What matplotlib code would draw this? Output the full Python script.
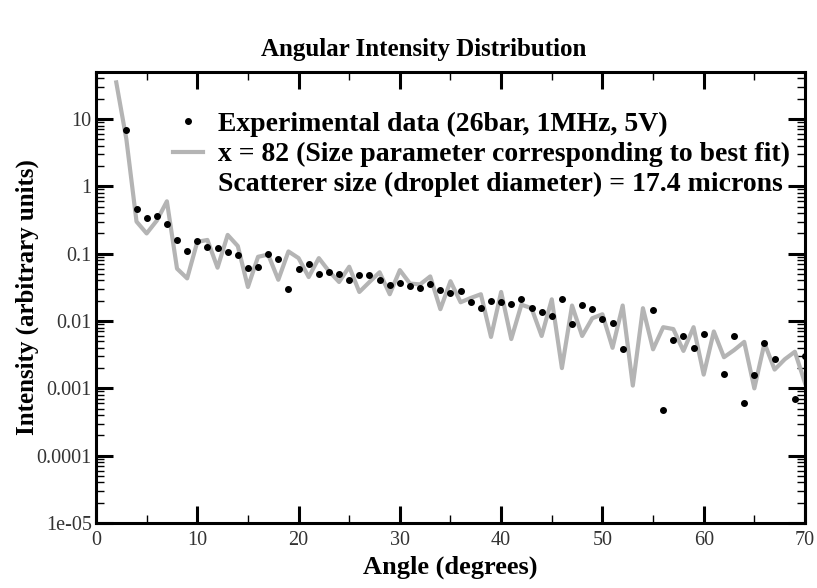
import matplotlib
matplotlib.use("Agg")
import matplotlib.pyplot as plt
from matplotlib.lines import Line2D
from matplotlib.ticker import FixedLocator, MultipleLocator, LogLocator, NullFormatter

# experimental points (angle in degrees, intensity)
exp_angle = [3, 4, 5, 6, 7, 8, 9, 10, 11, 12, 13, 14, 15, 16, 17, 18, 19, 20,
             21, 22, 23, 24, 25, 26, 27, 28, 29, 30, 31, 32, 33, 34, 35, 36,
             37, 38, 39, 40, 41, 42, 43, 44, 45, 46, 47, 48, 49, 50, 51, 52,
             55, 56, 57, 58, 59, 60, 62, 63, 64, 65, 66, 67, 69, 70]
exp_int = [6.8, 0.46, 0.34, 0.36, 0.28, 0.16, 0.108, 0.155, 0.125, 0.12,
           0.105, 0.097, 0.062, 0.064, 0.10, 0.084, 0.030, 0.060, 0.071,
           0.050, 0.053, 0.050, 0.040, 0.048, 0.049, 0.041, 0.034, 0.037,
           0.0335, 0.031, 0.035, 0.029, 0.026, 0.028, 0.019, 0.0155, 0.020,
           0.019, 0.018, 0.021, 0.0155, 0.0137, 0.012, 0.021, 0.0091, 0.0174,
           0.015, 0.0107, 0.0093, 0.0039, 0.0147, 0.00048, 0.0052, 0.006,
           0.0040, 0.0065, 0.00166, 0.006, 0.0006, 0.0016, 0.0047, 0.0027,
           0.0007, 0.003]

# Mie fit, size parameter x = 82
fit_angle = list(range(2, 71))
fit_int = [35, 5.0, 0.30, 0.20, 0.31, 0.60, 0.060, 0.043, 0.15, 0.16,
           0.062, 0.19, 0.13, 0.032, 0.090, 0.097, 0.041, 0.108, 0.086,
           0.045, 0.086, 0.055, 0.038, 0.064, 0.027, 0.038, 0.053, 0.025,
           0.057, 0.036, 0.035, 0.046, 0.015, 0.039, 0.019, 0.022, 0.025,
           0.0058, 0.027, 0.0054, 0.0175, 0.0155, 0.006, 0.021, 0.002,
           0.017, 0.006, 0.011, 0.0126, 0.004, 0.017, 0.0011, 0.0155,
           0.0038, 0.0081, 0.0076, 0.0036, 0.0081, 0.0016, 0.007, 0.0029,
           0.0037, 0.0049, 0.001, 0.0047, 0.0019, 0.0027, 0.0035, 0.0012]

ytick_vals = [1e-5, 1e-4, 1e-3, 1e-2, 1e-1, 1, 10]
ytick_text = ["1e-05", "0.0001", "0.001", "0.01", "0.1", "1", "10"]

plt.rcParams['font.family'] = ['Liberation Serif', 'DejaVu Serif']

fig = plt.figure(figsize=(8.17, 5.88), dpi=100)
ax = fig.add_axes([0.1175, 0.1105, 0.8678, 0.7671])

ax.plot(fit_angle, fit_int, color='#b4b4b4', lw=3.0, zorder=2)
ax.plot(exp_angle, exp_int, 'o', color='black', ms=4, zorder=3)

ax.set_yscale('log')
ax.set_xlim(0, 70)
ax.set_ylim(1e-5, 50)

ax.xaxis.set_major_locator(MultipleLocator(10))
ax.xaxis.set_minor_locator(MultipleLocator(5))
ax.yaxis.set_major_locator(FixedLocator(ytick_vals))
ax.set_yticklabels(ytick_text)
ax.yaxis.set_minor_locator(LogLocator(base=10, subs=range(2, 10), numticks=20))
ax.yaxis.set_minor_formatter(NullFormatter())

ax.tick_params(which='both', direction='in', top=True, right=True,
               labelsize=14.5, labelcolor='#333333')
ax.tick_params(axis='x', pad=6)
ax.tick_params(axis='y', pad=3)
ax.tick_params(which='major', length=12, width=2.2)
ax.tick_params(which='minor', length=6, width=1.0)
for s in ax.spines.values():
    s.set_linewidth(2.2)

ax.set_xlabel('Angle (degrees)', fontsize=19, fontweight='bold', labelpad=4)
ax.set_ylabel('Intensity (arbitrary units)', fontsize=18, fontweight='bold',
              labelpad=-2)
fig.suptitle('Angular Intensity Distribution', fontsize=18,
             fontweight='bold', x=0.519, y=0.935)

handles = [Line2D([], [], marker='o', ls='none', color='black', ms=4),
           Line2D([], [], color='#b4b4b4', lw=3.0),
           Line2D([], [], ls='none')]
labels = ['Experimental data (26bar, 1MHz, 5V)',
          'x = 82 (Size parameter corresponding to best fit)',
          'Scatterer size (droplet diameter) = 17.4 microns']
ax.legend(handles, labels, loc='upper left', bbox_to_anchor=(0.1086, 0.912),
          frameon=False, prop={'size': 20, 'weight': 'bold'},
          handlelength=1.08, handletextpad=0.54, labelspacing=0.17,
          borderaxespad=0, borderpad=0)

fig.savefig('out.png', dpi=100)
